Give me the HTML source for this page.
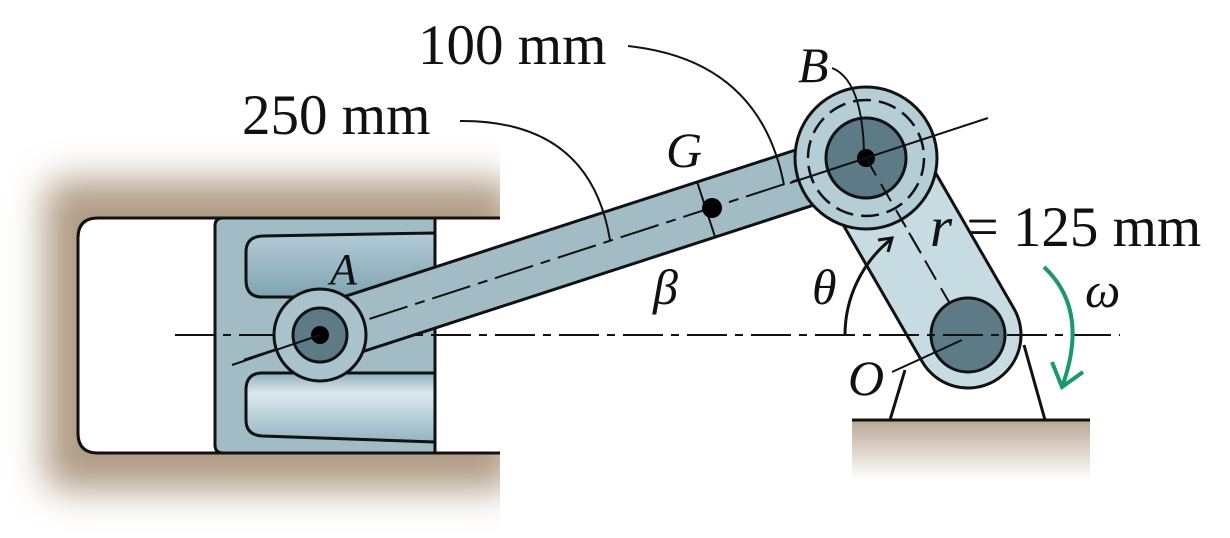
<!DOCTYPE html>
<html><head><meta charset="utf-8"><style>
html,body{margin:0;padding:0;background:#fff}
svg{display:block}
text{font-family:"Liberation Serif",serif;fill:#111}
</style></head><body>
<svg width="1230" height="538" viewBox="0 0 1230 538" xmlns="http://www.w3.org/2000/svg">
<defs>
<filter id="blur" x="-20%" y="-20%" width="140%" height="140%"><feGaussianBlur stdDeviation="18"/></filter>
<linearGradient id="gnd" x1="0" y1="0" x2="0" y2="1"><stop offset="0" stop-color="#b9a792"/><stop offset="1" stop-color="#fff"/></linearGradient>
<linearGradient id="rec1" x1="0" y1="0" x2="0" y2="1"><stop offset="0" stop-color="#b3ccd6"/><stop offset="1" stop-color="#7fa4b2"/></linearGradient>
<linearGradient id="rec2" x1="0" y1="0" x2="0" y2="1"><stop offset="0" stop-color="#8fb0bd"/><stop offset="0.3" stop-color="#dce9ee"/><stop offset="1" stop-color="#93b4c1"/></linearGradient>
</defs>
<!-- cylinder shadow -->
<rect x="45" y="180" width="470" height="310" rx="20" fill="#b09c84" filter="url(#blur)"/>
<rect x="500" y="140" width="60" height="390" fill="#fff"/>
<!-- bore -->
<path d="M500 218 H98 Q78 218 78 238 V433 Q78 453 98 453 H500" fill="#fff" stroke="#111" stroke-width="3"/>
<!-- piston -->
<path d="M223 218 H435 V453 H223 Q215 453 215 445 V226 Q215 218 223 218Z" fill="#a2bcc6" stroke="#111" stroke-width="3"/>
<path d="M435 233 L262 236 Q246 237 246 252 V280 Q246 297 262 297 H435Z" fill="url(#rec1)" stroke="#111" stroke-width="3"/>
<path d="M435 442 L262 436 Q246 435 246 420 V390 Q246 373 262 373 H435Z" fill="url(#rec2)" stroke="#111" stroke-width="3"/>
<line x1="435" y1="218" x2="435" y2="453" stroke="#111" stroke-width="3"/>
<!-- ground -->
<rect x="852" y="420" width="238" height="60" fill="url(#gnd)"/>
<line x1="852" y1="420" x2="1090" y2="420" stroke="#111" stroke-width="3"/>
<line x1="890" y1="420" x2="905" y2="370" stroke="#111" stroke-width="3"/>
<line x1="1045" y1="420" x2="1024" y2="345" stroke="#111" stroke-width="3"/>
<!-- crank -->
<g transform="rotate(-120 968 335)">
<path d="M1172 282 H968 A53 53 0 0 0 968 388 H1172" fill="#c7dbe2" stroke="#111" stroke-width="3"/>
<line x1="968" y1="335" x2="1172" y2="335" stroke="#111" stroke-width="2" stroke-dasharray="22 10"/>
</g>
<circle cx="968" cy="335" r="37" fill="#5d7b87" stroke="#111" stroke-width="3"/>
<!-- centerline -->
<line x1="175" y1="335" x2="1120" y2="335" stroke="#111" stroke-width="2" stroke-dasharray="40 8 8 8"/>
<!-- rod -->
<g transform="rotate(-18 320 335)">
<path d="M320 306 H894 V364 H320Z" fill="#a2bcc6" stroke="#111" stroke-width="3"/>
<line x1="240" y1="335" x2="894" y2="335" stroke="#111" stroke-width="2" stroke-dasharray="40 8 10 8"/>
<line x1="726" y1="306" x2="726" y2="364" stroke="#111" stroke-width="2"/>
</g>
<!-- A pin -->
<circle cx="320" cy="335" r="46" fill="#a9c3cc" stroke="#111" stroke-width="3"/>
<circle cx="320" cy="335" r="27" fill="#5d7b87" stroke="#111" stroke-width="3"/>
<circle cx="320" cy="335" r="9" fill="#000"/>
<line x1="232" y1="365" x2="320" y2="335" stroke="#111" stroke-width="2"/>
<!-- B boss -->
<circle cx="866" cy="158" r="71" fill="#b5cdd5" stroke="#111" stroke-width="3"/>
<circle cx="866" cy="158" r="58" fill="none" stroke="#111" stroke-width="2.5" stroke-dasharray="18 8"/>
<circle cx="866" cy="158" r="40" fill="#5d7b87" stroke="#111" stroke-width="3"/>
<circle cx="866" cy="158" r="9" fill="#000"/>
<line x1="866" y1="158" x2="988" y2="118" stroke="#111" stroke-width="2"/>
<line x1="866" y1="158" x2="790" y2="183" stroke="#111" stroke-width="2"/>
<line x1="866" y1="158" x2="922" y2="255" stroke="#111" stroke-width="2" stroke-dasharray="20 10"/>
<!-- G -->
<circle cx="712" cy="208" r="10" fill="#000"/>
<!-- leaders -->
<path d="M628 46 Q760 60 784 185" fill="none" stroke="#111" stroke-width="2"/>
<path d="M460 121 Q590 120 610 240" fill="none" stroke="#111" stroke-width="2"/>
<path d="M832 68 Q862 80 864 152" fill="none" stroke="#111" stroke-width="2"/>
<line x1="892" y1="372" x2="962" y2="340" stroke="#111" stroke-width="2"/>
<!-- theta arc -->
<path d="M845 335 A123 123 0 0 1 890 240" fill="none" stroke="#111" stroke-width="3"/>
<path d="M878 240 L892 238 L888 252" fill="none" stroke="#111" stroke-width="3"/>
<!-- omega -->
<path d="M1044 267 Q1090 310 1062 387" fill="none" stroke="#1a9a6a" stroke-width="4"/>
<path d="M1052 362 L1062 387 L1083 372" fill="none" stroke="#1a9a6a" stroke-width="4"/>
<!-- labels -->
<text x="418" y="64" font-size="57">100 mm</text>
<text x="242" y="134" font-size="57">250 mm</text>
<text x="666" y="167" font-size="50" font-style="italic">G</text>
<text x="798" y="82" font-size="50" font-style="italic">B</text>
<text x="330" y="284" font-size="44" font-style="italic">A</text>
<text x="930" y="246" font-size="57"><tspan font-style="italic">r</tspan> = 125 mm</text>
<text x="812" y="304" font-size="50" font-style="italic">θ</text>
<text x="653" y="304" font-size="50" font-style="italic">β</text>
<text x="1085" y="307" font-size="50" font-style="italic">ω</text>
<text x="848" y="395" font-size="50" font-style="italic">O</text>
</svg>
</body></html>
